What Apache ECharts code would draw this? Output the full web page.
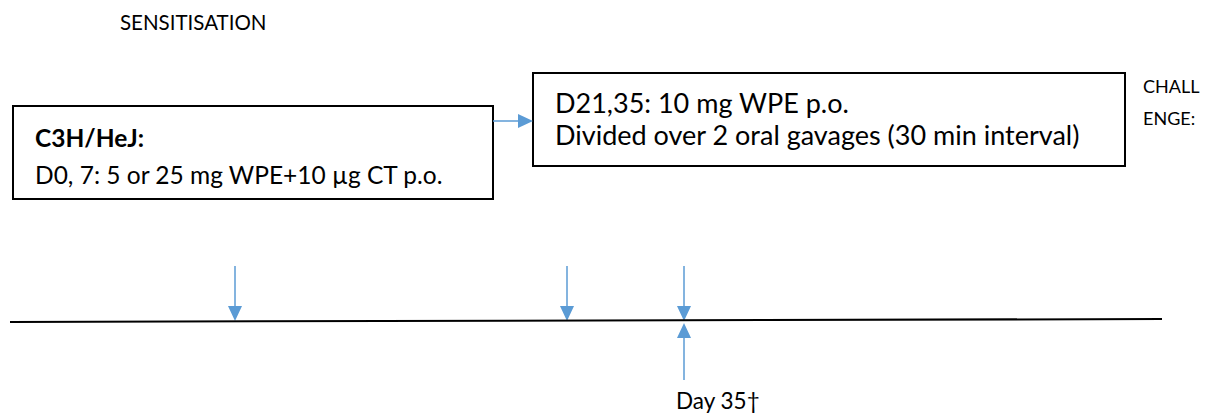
<!DOCTYPE html>
<html><head><meta charset="utf-8">
<script src="https://cdn.jsdelivr.net/npm/echarts@6/dist/echarts.min.js"></script>
<style>html,body{margin:0;padding:0;background:#fff}#c{width:1231px;height:416px}</style>
</head><body><div id="c"></div>
<script>
// ---- content ----
const phaseLabels = ['SENSITISATION', 'CHALL', 'ENGE:'];
const box1Lines = ['C3H/HeJ:', 'D0, 7: 5 or 25 mg WPE+10 µg CT p.o.'];
const box2Lines = ['D21,35: 10 mg WPE p.o.', 'Divided over 2 oral gavages (30 min interval)'];
const doseMarks = [235, 567, 684];     // dosing arrows along the timeline
const endMarks = [684];                // sacrifice arrow
const endLabels = ['Day 35\u2020'];
const timelineEnds = [[10, 322], [1162, 319]];

// ---- layout ----
const FONT = 'Lato, "Open Sans", sans-serif';
const BLUE = '#5B9BD5';
const boxes = [
  {rect: [13, 106, 493, 199], lines: box1Lines, bold: [true, false], y0: 137, dy: 37, size: 24.5},
  {rect: [533, 73, 1125, 166], lines: box2Lines, bold: [false, false], y0: 102, dy: 32, size: 27}
];
const arrowsData = [];
doseMarks.forEach(x => arrowsData.push([x, 266, 321]));
endMarks.forEach(x => arrowsData.push([x, 380, 323]));
arrowsData.push([493, 121, 533, 'h']);

const chart = echarts.init(document.getElementById('c'), null, {renderer: 'svg'});

function arrowRender(params, api) {
  const d = arrowsData[params.dataIndex];
  const head = 15, half = 7;
  if (d[3] === 'h') {
    const a = api.coord([d[0], d[1]]), b = api.coord([d[2], d[1]]);
    return {type: 'group', children: [
      {type: 'line', shape: {x1: a[0], y1: a[1], x2: b[0] - head, y2: b[1]}, style: {stroke: BLUE, lineWidth: 1.5}},
      {type: 'polygon', shape: {points: [[b[0], b[1]], [b[0] - head, b[1] - half], [b[0] - head, b[1] + half]]}, style: {fill: BLUE}}
    ]};
  }
  const a = api.coord([d[0], d[1]]), b = api.coord([d[0], d[2]]);
  const dir = b[1] > a[1] ? 1 : -1;
  return {type: 'group', children: [
    {type: 'line', shape: {x1: a[0], y1: a[1], x2: b[0], y2: b[1] - dir * head}, style: {stroke: BLUE, lineWidth: 1.5}},
    {type: 'polygon', shape: {points: [[b[0], b[1]], [b[0] - half, b[1] - dir * head], [b[0] + half, b[1] - dir * head]]}, style: {fill: BLUE}}
  ]};
}

function boxRender(params, api) {
  const bx = boxes[params.dataIndex];
  const p0 = api.coord([bx.rect[0], bx.rect[1]]), p1 = api.coord([bx.rect[2], bx.rect[3]]);
  const children = [{type: 'rect', shape: {x: p0[0], y: p0[1], width: p1[0] - p0[0], height: p1[1] - p0[1]},
    style: {fill: '#fff', stroke: '#000', lineWidth: 2}}];
  bx.lines.forEach((t, i) => {
    const p = api.coord([bx.rect[0] + 22, bx.y0 + i * bx.dy]);
    children.push({type: 'text', style: {text: t, x: p[0], y: p[1], fill: '#000', align: 'left', verticalAlign: 'middle',
      fontFamily: FONT, fontSize: bx.size, fontWeight: bx.bold[i] ? 'bold' : 'normal'}});
  });
  return {type: 'group', children};
}

const freeTexts = [
  {t: phaseLabels[0], x: 120, y: 22, size: 20.5, align: 'left'},
  {t: phaseLabels[1], x: 1143, y: 86, size: 18, align: 'left'},
  {t: phaseLabels[2], x: 1143, y: 118, size: 18, align: 'left'},
  {t: endLabels[0], x: endMarks[0] - 8, y: 400, size: 22.5, align: 'left'}
];
function textRender(params, api) {
  const f = freeTexts[params.dataIndex];
  const p = api.coord([f.x, f.y]);
  return {type: 'text', style: {text: f.t, x: p[0], y: p[1], fill: '#000', align: f.align, verticalAlign: 'middle',
    fontFamily: FONT, fontSize: f.size}};
}

chart.setOption({
  animation: false,
  backgroundColor: '#fff',
  grid: {left: 0, right: 0, top: 0, bottom: 0},
  xAxis: {type: 'value', min: 0, max: 1231, show: false},
  yAxis: {type: 'value', min: 0, max: 416, inverse: true, show: false},
  series: [
    {type: 'line', data: timelineEnds, symbol: 'none', lineStyle: {color: '#000', width: 2}, silent: true},
    {type: 'custom', renderItem: boxRender, data: boxes.map((b, i) => [i]), silent: true},
    {type: 'custom', renderItem: arrowRender, data: arrowsData.map((a, i) => [i]), silent: true, z: 3},
    {type: 'custom', renderItem: textRender, data: freeTexts.map((a, i) => [i]), silent: true}
  ]
});
</script></body></html>
